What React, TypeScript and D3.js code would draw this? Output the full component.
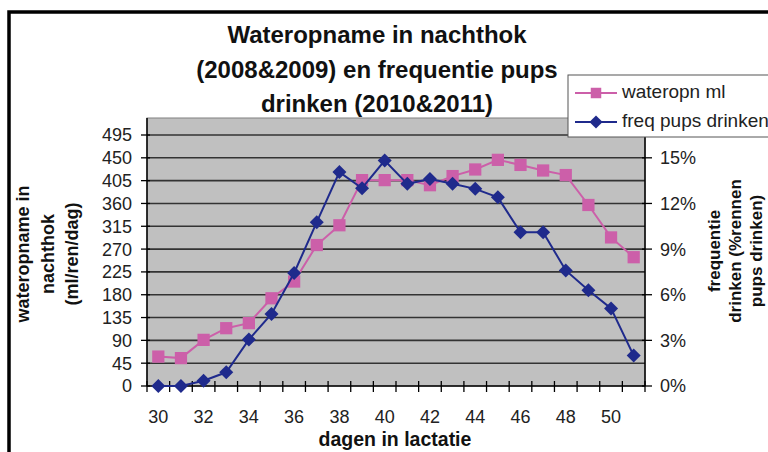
import React, { useEffect, useRef } from 'react'
import * as d3 from 'd3'

const days = [30, 31, 32, 33, 34, 35, 36, 37, 38, 39, 40, 41, 42, 43, 44, 45, 46, 47, 48, 49, 50, 51]
// water intake in ml (left axis)
const waterMl = [58, 55, 91, 114, 124, 173, 206, 278, 317, 406, 406, 406, 396, 414, 427, 446, 436, 425, 416, 357, 293, 254]
// drinking frequency in % (right axis)
const freqPct = [0, 0, 0.35, 0.9, 3.05, 4.74, 7.43, 10.77, 14.06, 13.0, 14.82, 13.29, 13.6, 13.3, 12.96, 12.4, 10.1, 10.1, 7.6, 6.3, 5.1, 2.0]

const leftTicks = [0, 45, 90, 135, 180, 225, 270, 315, 360, 405, 450, 495]
const rightTicks = [0, 3, 6, 9, 12, 15]
const dayLabels = [30, 32, 34, 36, 38, 40, 42, 44, 46, 48, 50]

const titleLines = ['Wateropname in nachthok', '(2008&2009) en frequentie pups', 'drinken (2010&2011)']
const leftTitle = ['wateropname in', 'nachthok', '(ml/ren/dag)']
const rightTitle = ['frequentie', 'drinken (%rennen', 'pups drinken)']
const seriesNames = ['wateropn ml', 'freq pups drinken']

const PINK = '#cc5fa9'
const BLUE = '#1f2a8c'
const FONT = '"Liberation Sans", Arial, sans-serif'

export default function App() {
  const svgRef = useRef<SVGSVGElement>(null)

  useEffect(() => {
    const svg = d3.select(svgRef.current)
    svg.selectAll('*').remove()
    svg.attr('font-family', FONT)

    const left = 147, right = 645, top = 118, bottom = 386

    const x = d3.scaleBand<number>().domain(days).range([left, right])
    const yL = d3.scaleLinear().domain([0, 495]).range([bottom, 135])
    const yR = d3.scaleLinear().domain([0, 16.5]).range([bottom, 135])
    const cx = (d: number) => x(d)! + x.bandwidth() / 2

    // outer frame
    svg.append('rect')
      .attr('x', 9).attr('y', 12).attr('width', 800).attr('height', 500)
      .attr('fill', 'white').attr('stroke', '#000').attr('stroke-width', 3.5)

    // plot area
    svg.append('rect')
      .attr('x', left).attr('y', top).attr('width', right - left).attr('height', bottom - top)
      .attr('fill', '#c0c0c0').attr('stroke', '#808080').attr('stroke-width', 1)

    // gridlines
    svg.append('g').selectAll('line')
      .data(leftTicks.filter(t => t > 0))
      .join('line')
      .attr('x1', left).attr('x2', right)
      .attr('y1', d => yL(d)).attr('y2', d => yL(d))
      .attr('stroke', '#333').attr('stroke-width', 1.6)

    // left axis
    const gl = svg.append('g')
    gl.append('line').attr('x1', left).attr('x2', left).attr('y1', top).attr('y2', bottom)
      .attr('stroke', '#000').attr('stroke-width', 1.5)
    gl.selectAll('line.t').data(leftTicks).join('line').attr('class', 't')
      .attr('x1', left - 6).attr('x2', left + 3)
      .attr('y1', d => yL(d)).attr('y2', d => yL(d))
      .attr('stroke', '#000').attr('stroke-width', 1.3)
    gl.selectAll('text').data(leftTicks).join('text')
      .attr('x', 132).attr('y', d => yL(d)).attr('dy', '0.36em')
      .attr('text-anchor', 'end').attr('font-size', 18).attr('fill', '#222')
      .text(d => d)

    // right axis
    const gr = svg.append('g')
    gr.append('line').attr('x1', right).attr('x2', right).attr('y1', top).attr('y2', bottom)
      .attr('stroke', '#000').attr('stroke-width', 1.5)
    gr.selectAll('line.t').data(rightTicks).join('line').attr('class', 't')
      .attr('x1', right - 3).attr('x2', right + 7)
      .attr('y1', d => yR(d)).attr('y2', d => yR(d))
      .attr('stroke', '#000').attr('stroke-width', 1.3)
    gr.selectAll('text').data(rightTicks).join('text')
      .attr('x', 660).attr('y', d => yR(d)).attr('dy', '0.36em')
      .attr('font-size', 18).attr('fill', '#222')
      .text(d => `${d}%`)

    // x axis
    const gx = svg.append('g')
    gx.append('line').attr('x1', left).attr('x2', right).attr('y1', bottom).attr('y2', bottom)
      .attr('stroke', '#000').attr('stroke-width', 1.5)
    const bounds = days.map(d => x(d)!).concat([right])
    gx.selectAll('line.t').data(bounds).join('line').attr('class', 't')
      .attr('x1', d => d).attr('x2', d => d)
      .attr('y1', bottom - 5).attr('y2', bottom + 6)
      .attr('stroke', '#000').attr('stroke-width', 1.3)
    gx.selectAll('text').data(dayLabels).join('text')
      .attr('x', d => cx(d)).attr('y', 423)
      .attr('text-anchor', 'middle').attr('font-size', 18).attr('fill', '#222')
      .text(d => d)

    // series
    const waterPts = days.map((d, i) => [cx(d), yL(waterMl[i])] as [number, number])
    const freqPts = days.map((d, i) => [cx(d), yR(freqPct[i])] as [number, number])
    const line = d3.line()

    svg.append('path').attr('d', line(waterPts))
      .attr('fill', 'none').attr('stroke', PINK).attr('stroke-width', 2)
    svg.append('g').selectAll('path').data(waterPts).join('path')
      .attr('d', d3.symbol().type(d3.symbolSquare).size(150)())
      .attr('transform', d => `translate(${d[0]},${d[1]})`)
      .attr('fill', PINK)

    svg.append('path').attr('d', line(freqPts))
      .attr('fill', 'none').attr('stroke', BLUE).attr('stroke-width', 2)
    svg.append('g').selectAll('path').data(freqPts).join('path')
      .attr('d', d3.symbol().type(d3.symbolDiamond2).size(125)())
      .attr('transform', d => `translate(${d[0]},${d[1]})`)
      .attr('fill', BLUE)

    // legend
    const lg = svg.append('g')
    lg.append('rect').attr('x', 568).attr('y', 75).attr('width', 220).attr('height', 62)
      .attr('fill', 'white').attr('stroke', '#555').attr('stroke-width', 1)
    const rows = [
      { name: seriesNames[0], color: PINK, sym: d3.symbolSquare, size: 110, y: 93 },
      { name: seriesNames[1], color: BLUE, sym: d3.symbolDiamond2, size: 110, y: 122 },
    ]
    rows.forEach(r => {
      lg.append('line').attr('x1', 575).attr('x2', 617).attr('y1', r.y).attr('y2', r.y)
        .attr('stroke', r.color).attr('stroke-width', 2)
      lg.append('path').attr('d', d3.symbol().type(r.sym).size(r.size)())
        .attr('transform', `translate(596,${r.y})`).attr('fill', r.color)
      lg.append('text').attr('x', 622).attr('y', r.y + 5)
        .attr('font-size', 19).attr('fill', '#222').text(r.name)
    })

    // title
    svg.append('g').selectAll('text').data(titleLines).join('text')
      .attr('x', 377).attr('y', (d, i) => 43 + i * 34.5)
      .attr('text-anchor', 'middle').attr('font-size', 24).attr('font-weight', 'bold')
      .attr('fill', '#111').text(d => d)

    // axis titles
    svg.append('g').selectAll('text').data(leftTitle).join('text')
      .attr('transform', (d, i) => `translate(${23 + i * 24.5},254) rotate(-90)`)
      .attr('dy', '0.35em').attr('text-anchor', 'middle')
      .attr('font-size', 18).attr('font-weight', 'bold').attr('fill', '#111')
      .text(d => d)

    svg.append('g').selectAll('text').data(rightTitle).join('text')
      .attr('transform', (d, i) => `translate(${714 + i * 21},251) rotate(-90)`)
      .attr('dy', '0.35em').attr('text-anchor', 'middle')
      .attr('font-size', 17).attr('font-weight', 'bold').attr('fill', '#111')
      .text(d => d)

    svg.append('text')
      .attr('x', 395).attr('y', 446).attr('text-anchor', 'middle')
      .attr('font-size', 19.5).attr('font-weight', 'bold').attr('fill', '#111')
      .text('dagen in lactatie')
  }, [])

  return (
    <div style={{ position: 'absolute', left: 0, top: 0, width: 768, height: 452, overflow: 'hidden' }}>
      <svg ref={svgRef} width={768} height={452} style={{ display: 'block' }} />
    </div>
  )
}
